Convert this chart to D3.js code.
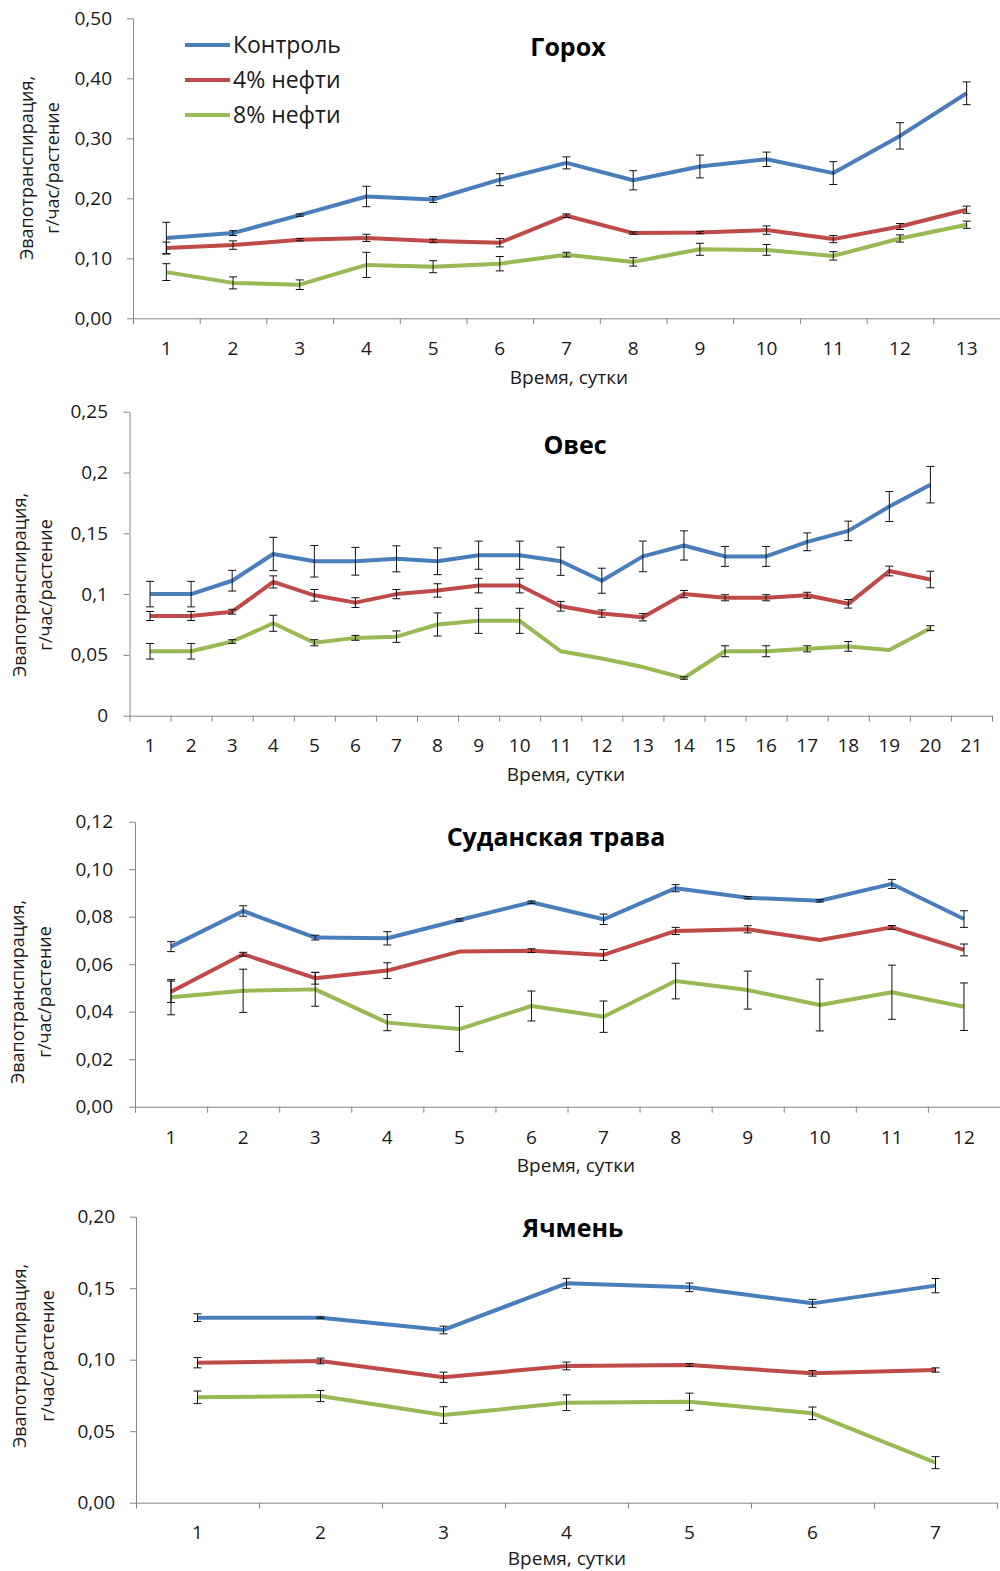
<!DOCTYPE html>
<html>
<head>
<meta charset="utf-8">
<script src="https://cdn.jsdelivr.net/npm/d3@7"></script>
<style>
  body { margin: 0; background: #fff; }
  svg { display: block; font-family: "Open Sans", "Noto Sans", sans-serif; }
</style>
</head>
<body>
<script>
// series names + colours
const seriesNames = ["Контроль", "4% нефти", "8% нефти"];
const seriesColors = ["#4a7ebb", "#be4b48", "#98b954"];

// Горох
const peaDays = ["1","2","3","4","5","6","7","8","9","10","11","12","13"];
const peaControl = [0.134, 0.142, 0.172, 0.203, 0.198, 0.231, 0.259, 0.230, 0.253, 0.265, 0.242, 0.304, 0.375];
const peaControlErr = [0.026, 0.004, 0.002, 0.017, 0.005, 0.010, 0.010, 0.016, 0.019, 0.012, 0.019, 0.022, 0.019];
const pea4 = [0.117, 0.122, 0.131, 0.134, 0.129, 0.126, 0.171, 0.142, 0.143, 0.147, 0.132, 0.153, 0.181];
const pea4Err = [0.010, 0.007, 0.002, 0.006, 0.003, 0.007, 0.003, 0.002, 0.002, 0.007, 0.006, 0.005, 0.006];
const pea8 = [0.077, 0.059, 0.056, 0.089, 0.086, 0.091, 0.106, 0.094, 0.115, 0.114, 0.104, 0.133, 0.156];
const pea8Err = [0.014, 0.010, 0.008, 0.021, 0.010, 0.012, 0.004, 0.007, 0.010, 0.009, 0.007, 0.006, 0.006];
const peaTicks = [0, 0.1, 0.2, 0.3, 0.4, 0.5];
const peaTickLabels = ["0,00", "0,10", "0,20", "0,30", "0,40", "0,50"];

// Овес
const oatDays = ["1","2","3","4","5","6","7","8","9","10","11","12","13","14","15","16","17","18","19","20","21"];
const oatControl = [0.100, 0.100, 0.111, 0.133, 0.127, 0.127, 0.129, 0.127, 0.132, 0.132, 0.127, 0.111, 0.131, 0.140, 0.131, 0.131, 0.143, 0.152, 0.172, 0.190];
const oatControlErr = [0.0105, 0.0105, 0.0085, 0.0137, 0.013, 0.0114, 0.0107, 0.011, 0.0116, 0.0116, 0.0116, 0.0103, 0.0126, 0.012, 0.0082, 0.0082, 0.0073, 0.008, 0.0123, 0.015];
const oat4 = [0.082, 0.082, 0.0855, 0.110, 0.099, 0.093, 0.100, 0.103, 0.107, 0.107, 0.090, 0.084, 0.081, 0.100, 0.097, 0.097, 0.099, 0.092, 0.119, 0.112];
const oat4Err = [0.0037, 0.0037, 0.002, 0.005, 0.0048, 0.004, 0.0038, 0.0055, 0.006, 0.006, 0.004, 0.003, 0.003, 0.003, 0.0025, 0.0025, 0.0025, 0.0035, 0.004, 0.0068];
const oat8 = [0.053, 0.053, 0.061, 0.076, 0.060, 0.064, 0.065, 0.075, 0.078, 0.078, 0.053, 0.047, 0.040, 0.031, 0.053, 0.053, 0.055, 0.057, 0.054, 0.072];
const oat8Err = [0.0064, 0.0064, 0.0015, 0.0066, 0.0025, 0.002, 0.0047, 0.0095, 0.0103, 0.0103, 0, 0, 0, 0.001, 0.0045, 0.0045, 0.0025, 0.004, 0, 0.002];
const oatTicks = [0, 0.05, 0.1, 0.15, 0.2, 0.25];
const oatTickLabels = ["0", "0,05", "0,1", "0,15", "0,2", "0,25"];

// Суданская трава
const sudanDays = ["1","2","3","4","5","6","7","8","9","10","11","12"];
const sudanControl = [0.0674, 0.0824, 0.0712, 0.0709, 0.0786, 0.0861, 0.0789, 0.0920, 0.0880, 0.0867, 0.0938, 0.0790];
const sudanControlErr = [0.0021, 0.0022, 0.001, 0.0028, 0.0005, 0.0005, 0.0022, 0.0015, 0.0005, 0.0005, 0.0019, 0.0035];
const sudan4 = [0.0484, 0.0642, 0.0541, 0.0573, 0.0653, 0.0657, 0.0639, 0.0740, 0.0747, 0.0702, 0.0755, 0.0660];
const sudan4Err = [0.0045, 0.0008, 0.0025, 0.0033, 0, 0.0008, 0.0023, 0.0015, 0.0015, 0, 0.0008, 0.0025];
const sudan8 = [0.0461, 0.0488, 0.0494, 0.0354, 0.0327, 0.0424, 0.0379, 0.0529, 0.0491, 0.0428, 0.0482, 0.0421];
const sudan8Err = [0.0074, 0.0091, 0.0071, 0.0034, 0.0095, 0.0063, 0.0066, 0.0075, 0.008, 0.0109, 0.0114, 0.010];
const sudanTicks = [0, 0.02, 0.04, 0.06, 0.08, 0.10, 0.12];
const sudanTickLabels = ["0,00", "0,02", "0,04", "0,06", "0,08", "0,10", "0,12"];

// Ячмень
const barleyDays = ["1","2","3","4","5","6","7"];
const barleyControl = [0.1294, 0.1294, 0.1208, 0.1534, 0.1506, 0.1394, 0.1518];
const barleyControlErr = [0.0027, 0.0005, 0.0027, 0.0035, 0.003, 0.0028, 0.005];
const barley4 = [0.0979, 0.0991, 0.0877, 0.0956, 0.0963, 0.0905, 0.0928];
const barley4Err = [0.0036, 0.002, 0.0036, 0.0027, 0.001, 0.002, 0.0015];
const barley8 = [0.0737, 0.0746, 0.0613, 0.0699, 0.0706, 0.0625, 0.0280];
const barley8Err = [0.0044, 0.0039, 0.0058, 0.0055, 0.006, 0.0044, 0.0042];
const barleyTicks = [0, 0.05, 0.10, 0.15, 0.20];
const barleyTickLabels = ["0,00", "0,05", "0,10", "0,15", "0,20"];

const yTitle1 = "Эвапотранспирация,";
const yTitle2 = "г/час/растение";
const xTitle = "Время, сутки";

const panels = [
  { title: "Горох", days: peaDays, series: [peaControl, pea4, pea8], errs: [peaControlErr, pea4Err, pea8Err],
    ticks: peaTicks, tickLabels: peaTickLabels, yMax: 0.5,
    x0: 133, x1: 1000, yTop: 18.3, yBot: 318.3, labelPad: 21, tickY: 348, xTitleX: 569, xTitleY: 377,
    yt1x: 27, yt2x: 53, ytY: 168, titleX: 568, titleY: 47, legend: true },
  { title: "Овес", days: oatDays, series: [oatControl, oat4, oat8], errs: [oatControlErr, oat4Err, oat8Err],
    ticks: oatTicks, tickLabels: oatTickLabels, yMax: 0.25,
    x0: 129.5, x1: 992, yTop: 411.7, yBot: 715.7, labelPad: 21.5, tickY: 745, xTitleX: 566, xTitleY: 774,
    yt1x: 20, yt2x: 46, ytY: 585, titleX: 575, titleY: 445 },
  { title: "Суданская трава", days: sudanDays, series: [sudanControl, sudan4, sudan8], errs: [sudanControlErr, sudan4Err, sudan8Err],
    ticks: sudanTicks, tickLabels: sudanTickLabels, yMax: 0.12,
    x0: 135, x1: 1000, yTop: 821.7, yBot: 1106.7, labelPad: 22, tickY: 1137, xTitleX: 576, xTitleY: 1165,
    yt1x: 18, yt2x: 45, ytY: 992, titleX: 556, titleY: 837 },
  { title: "Ячмень", days: barleyDays, series: [barleyControl, barley4, barley8], errs: [barleyControlErr, barley4Err, barley8Err],
    ticks: barleyTicks, tickLabels: barleyTickLabels, yMax: 0.2,
    x0: 136, x1: 997, yTop: 1216.7, yBot: 1502.7, labelPad: 21, tickY: 1532, xTitleX: 567, xTitleY: 1558,
    yt1x: 20, yt2x: 48, ytY: 1356, titleX: 573, titleY: 1228 }
];

const width = 1000, height = 1571;
const axisColor = "#868686";
const textColor = "#1a1a1a";

const svg = d3.select("body").append("svg")
  .attr("width", width)
  .attr("height", height);

panels.forEach(function (p) {
  const g = svg.append("g");
  const n = p.days.length;

  const x = d3.scaleBand().domain(p.days).range([p.x0, p.x1]);
  const xEdge = d3.scaleLinear().domain([0, n]).range([p.x0, p.x1]);
  const y = d3.scaleLinear().domain([0, p.yMax]).range([p.yBot, p.yTop]);

  // y axis
  const yAxis = g.append("g")
    .attr("transform", "translate(" + p.x0 + ",0)")
    .call(d3.axisLeft(y).tickValues(p.ticks).tickSize(6).tickSizeOuter(0).tickPadding(p.labelPad - 6)
      .tickFormat(function (d, i) { return p.tickLabels[i]; }));
  yAxis.select(".domain").attr("stroke", axisColor);
  yAxis.selectAll(".tick line").attr("stroke", axisColor);
  yAxis.selectAll("text").attr("font-size", 19).attr("fill", textColor).attr("font-family", "Open Sans, sans-serif");

  // x axis: tick marks on category edges
  const xAxis = g.append("g")
    .attr("transform", "translate(0," + p.yBot + ")")
    .call(d3.axisBottom(xEdge).tickValues(d3.range(n + 1)).tickSize(6).tickSizeOuter(0).tickFormat(""));
  xAxis.select(".domain").attr("stroke", axisColor);
  xAxis.selectAll(".tick line").attr("stroke", axisColor);

  // category labels
  g.selectAll(".xlab")
    .data(p.days)
    .enter()
    .append("text")
    .attr("x", function (d) { return x(d) + x.bandwidth() / 2; })
    .attr("y", p.tickY)
    .attr("dy", "0.35em")
    .attr("text-anchor", "middle")
    .attr("font-size", 19)
    .attr("fill", textColor)
    .text(function (d) { return d; });

  // axis titles
  g.append("text")
    .attr("x", p.xTitleX).attr("y", p.xTitleY).attr("dy", "0.35em")
    .attr("text-anchor", "middle").attr("font-size", 19).attr("fill", textColor)
    .text(xTitle);
  [[yTitle1, p.yt1x], [yTitle2, p.yt2x]].forEach(function (t) {
    g.append("text")
      .attr("transform", "translate(" + t[1] + "," + p.ytY + ") rotate(-90)")
      .attr("dy", "0.35em")
      .attr("text-anchor", "middle").attr("font-size", 18).attr("fill", textColor)
      .text(t[0]);
  });

  // chart title
  g.append("text")
    .attr("x", p.titleX).attr("y", p.titleY).attr("dy", "0.35em")
    .attr("text-anchor", "middle").attr("font-size", 25).attr("font-weight", "bold").attr("fill", "#000")
    .text(p.title);

  const line = d3.line()
    .x(function (d, i) { return x(p.days[i]) + x.bandwidth() / 2; })
    .y(function (d) { return y(d); });

  // lines
  p.series.forEach(function (s, k) {
    g.append("path")
      .datum(s)
      .attr("d", line)
      .attr("fill", "none")
      .attr("stroke", seriesColors[k])
      .attr("stroke-width", 4)
      .attr("stroke-linejoin", "round");
  });

  // error bars
  p.series.forEach(function (s, k) {
    const eb = g.append("g").attr("stroke", "#111").attr("stroke-width", 1);
    s.forEach(function (v, i) {
      const e = p.errs[k][i];
      if (!e) return;
      const cx = x(p.days[i]) + x.bandwidth() / 2;
      eb.append("line").attr("x1", cx).attr("x2", cx).attr("y1", y(v + e)).attr("y2", y(v - e));
      eb.append("line").attr("x1", cx - 4).attr("x2", cx + 4).attr("y1", y(v + e)).attr("y2", y(v + e));
      eb.append("line").attr("x1", cx - 4).attr("x2", cx + 4).attr("y1", y(v - e)).attr("y2", y(v - e));
    });
  });

  // legend
  if (p.legend) {
    seriesNames.forEach(function (name, k) {
      const ly = 45 + k * 35;
      g.append("line")
        .attr("x1", 185).attr("x2", 230).attr("y1", ly).attr("y2", ly)
        .attr("stroke", seriesColors[k]).attr("stroke-width", 4);
      g.append("text")
        .attr("x", 233).attr("y", ly).attr("dy", "0.35em")
        .attr("font-size", 23).attr("fill", textColor)
        .text(name);
    });
  }
});
</script>
</body>
</html>
